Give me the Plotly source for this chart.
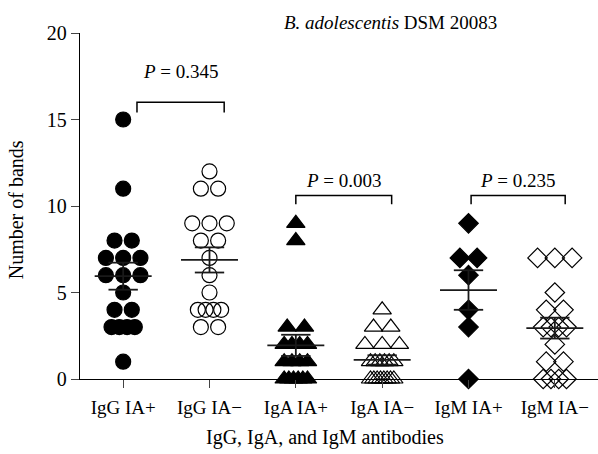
import plotly.graph_objects as go
import numpy as np

categories = ["IgG IA+", "IgG IA−", "IgA IA+", "IgA IA−", "IgM IA+", "IgM IA−"]
igg_pos = [15, 11, 8, 8, 7, 7, 7, 6, 6, 6, 5, 4, 4, 3, 3, 3, 3, 1]
igg_neg = [12, 11, 11, 9, 9, 9, 8, 8, 7, 6, 5, 4, 4, 4, 4, 3, 3]
iga_pos = [9, 8, 3, 3, 2, 2, 2, 2, 1, 1, 1, 1, 0, 0, 0, 0, 0, 0]
iga_neg = [4, 3, 3, 2, 2, 2, 1, 1, 1, 1, 1, 1, 0, 0, 0, 0, 0, 0, 0, 0]
igm_pos = [9, 7, 7, 6, 4, 3, 0]
igm_neg = [7, 7, 7, 5, 4, 4, 3, 3, 3, 3, 2, 1, 1, 0, 0, 0, 0]
p_values = ["0.345", "0.003", "0.235"]

groups = [igg_pos, igg_neg, iga_pos, iga_neg, igm_pos, igm_neg]
symbols = ["circle", "circle-open", "triangle-up", "triangle-up-open", "diamond", "diamond-open"]
sizes = [15, 15, 16, 16, 15, 15]

FONT = "Liberation Serif"


def spread(vals, center):
    vals = np.asarray(vals, dtype=float)
    xs = np.zeros_like(vals)
    for v in np.unique(vals):
        idx = np.where(vals == v)[0]
        n = len(idx)
        s = 0.2 if n <= 3 else 0.27 / (n - 1)
        for k, i in enumerate(idx):
            xs[i] = center + (k - (n - 1) / 2) * s
    return xs


fig = go.Figure()
for gi, vals in enumerate(groups):
    xs = spread(vals, gi)
    fig.add_trace(go.Scatter(
        x=xs, y=vals, mode="markers", cliponaxis=False, showlegend=False,
        marker=dict(symbol=symbols[gi], size=sizes[gi], color="black",
                    line=dict(color="black", width=1.2)),
    ))

# mean +/- SEM
for gi, vals in enumerate(groups):
    v = np.asarray(vals, dtype=float)
    m = v.mean()
    se = v.std(ddof=1) / np.sqrt(len(v))
    hw, cw = 0.33, 0.17
    fig.add_trace(go.Scatter(
        x=[gi - hw, gi + hw, None, gi, gi, None, gi - cw, gi + cw, None, gi - cw, gi + cw],
        y=[m, m, None, m - se, m + se, None, m + se, m + se, None, m - se, m - se],
        mode="lines", line=dict(color="#1a1a1a", width=1.8), cliponaxis=False,
        showlegend=False, hoverinfo="skip",
    ))

# significance brackets: (left x, right x, top y, leg y, label y)
brackets = [(0.16, 1.17, 16.0, 15.4, 17.8), (2.0, 3.11, 10.6, 10.1, 11.45),
            (4.03, 5.12, 10.6, 10.1, 11.45)]
for (a, b, top, leg, ty), p in zip(brackets, p_values):
    fig.add_trace(go.Scatter(
        x=[a, a, b, b], y=[leg, top, top, leg], mode="lines",
        line=dict(color="black", width=1.5), showlegend=False, hoverinfo="skip",
    ))
    fig.add_annotation(x=(a + b) / 2, y=ty, xref="x", yref="y",
                       text=f"<i>P</i> = {p}", showarrow=False, yanchor="middle",
                       font=dict(family=FONT, size=19, color="black"))

fig.add_annotation(x=3.1, y=1.03, xref="x", yref="paper",
                   text="<i>B. adolescentis</i> DSM 20083", showarrow=False,
                   yanchor="middle", font=dict(family=FONT, size=19, color="black"))

# axis titles
fig.add_annotation(x=0.473, y=-0.168, xref="paper", yref="paper",
                   text="IgG, IgA, and IgM antibodies", showarrow=False,
                   yanchor="middle", font=dict(family=FONT, size=20, color="black"))
fig.add_annotation(x=-0.122, y=0.49, xref="paper", yref="paper",
                   text="Number of bands", showarrow=False, textangle=-90,
                   xanchor="center", yanchor="middle",
                   font=dict(family=FONT, size=20, color="black"))

fig.update_layout(
    width=598, height=454,
    margin=dict(l=80, r=0, t=33, b=75),
    plot_bgcolor="white", paper_bgcolor="white",
    font=dict(family=FONT, size=19, color="black"),
    xaxis=dict(range=[-0.5, 5.5], tickvals=list(range(6)), ticktext=categories,
               showline=True, linecolor="black", linewidth=1.3, ticks="outside",
               ticklen=8, tickwidth=1.3, showgrid=False, zeroline=False,
               automargin=False, tickfont=dict(size=19), ticklabelstandoff=3),
    yaxis=dict(range=[0, 20], tickvals=[0, 5, 10, 15, 20], showline=True,
               linecolor="black", linewidth=1.3, ticks="outside", ticklen=8,
               tickwidth=1.3, showgrid=False, zeroline=False,
               automargin=False, tickfont=dict(size=20)),
)

fig.write_html("out.html", config={"displayModeBar": False},
               post_script="document.body.style.margin='0';document.body.style.padding='0';")
